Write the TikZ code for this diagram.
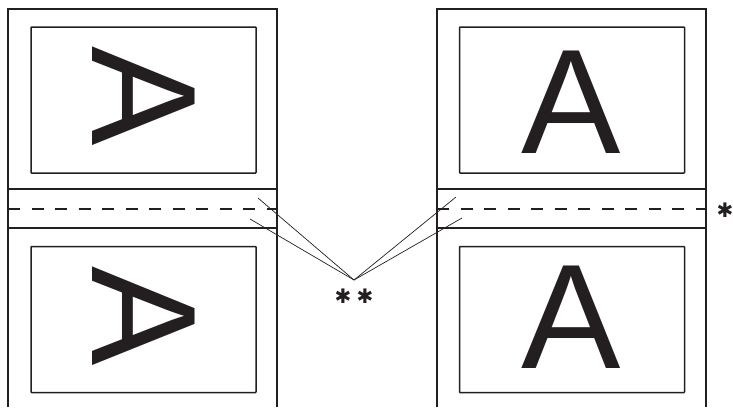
\documentclass[tikz,border=0pt]{standalone}
\usepackage{fontspec}
\newfontfamily\letterfont{Liberation Sans}
\newfontfamily\starfont{DejaVu Sans}
\begin{document}
\begin{tikzpicture}[x=1pt,y=-1pt,
  sheet/.style={draw=ink, line width=1.5pt},
  fold/.style={draw=ink, line width=2pt, dash pattern=on 12pt off 11.5pt},
  frame/.style={draw=ink, line width=1.5pt, rounded corners=0.6pt, minimum width=225pt, minimum height=146pt, inner sep=0pt},
  letter/.style={font=\letterfont\fontsize{149}{149}\selectfont, text=ink, inner sep=0pt},
  lead/.style={draw=ink, line width=0.7pt},
  star/.style={font=\starfont\fontsize{20}{20}\selectfont, text=ink, inner sep=0pt}]
\definecolor{ink}{HTML}{231F20}
\useasboundingbox (0,0) rectangle (733,407);
% left sheets
\draw[sheet] (8,407) -- (8,9) -- (277,9) -- (277,407);
\draw[sheet] (8,189) -- (277,189);
\draw[sheet] (8,228) -- (277,228);
\draw[fold] (8,209) -- (277,209);
% right sheets
\draw[sheet] (437,407) -- (437,9) -- (706,9) -- (706,407);
\draw[sheet] (437,189) -- (706,189);
\draw[sheet] (437,228) -- (706,228);
\draw[fold] (437,209) -- (706,209);
% frames
\node[frame] (lt) at (143.5,100) {};
\node[frame] (lb) at (143.5,319.5) {};
\node[frame] (rt) at (572,100) {};
\node[frame] (rb) at (572,319.5) {};
% letters
\node[letter, rotate=-90] (alt) at (143.5,96) {A};
\node[letter, rotate=-90] (alb) at (143.5,316.5) {A};
\node[letter] (art) at (571.5,102.5) {A};
\node[letter] (arb) at (571.5,317.5) {A};
% leaders
\coordinate (apex) at (354,280);
\coordinate (l1) at (258,198);
\coordinate (l2) at (250,219);
\coordinate (r1) at (456,197);
\coordinate (r2) at (462,218);
\draw[lead] (l1) -- (apex) -- (r1);
\draw[lead] (l2) -- (apex) -- (r2);
\node[star] (two) at (354,296) {✱\kern5pt✱};
\node[star] (one) at (725,210) {✱};
\end{tikzpicture}
\end{document}
